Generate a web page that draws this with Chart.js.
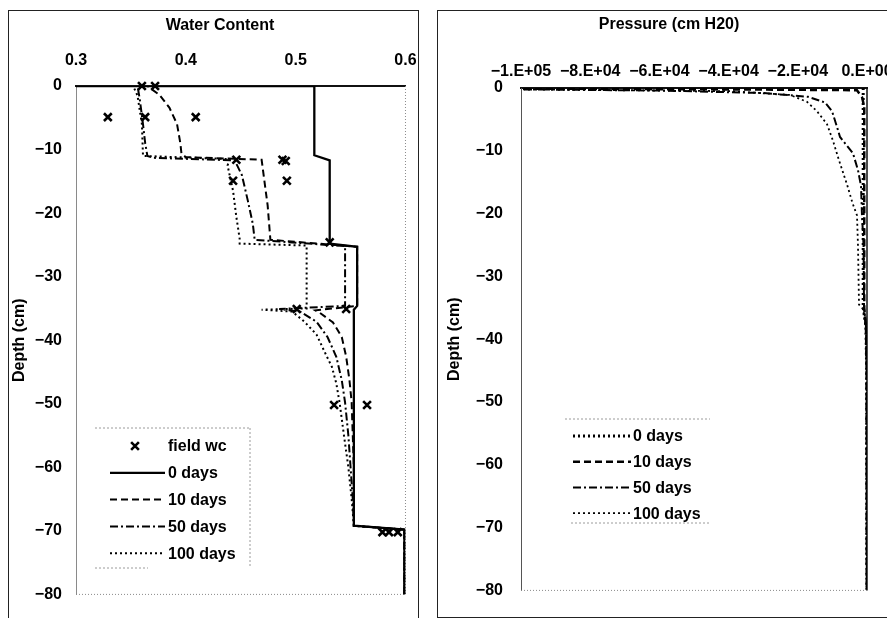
<!DOCTYPE html>
<html>
<head>
<meta charset="utf-8">
<script src="https://cdn.jsdelivr.net/npm/chart.js@4.4.1/dist/chart.umd.min.js"></script>
<style>
  html, body { margin: 0; padding: 0; background: #fff; width: 887px; height: 618px; overflow: hidden; }
  .frame { position: absolute; box-sizing: border-box; border: 1.5px solid #222; }
  #frameL { left: 8px; top: 10px; width: 411px; height: 640px; }
  #frameR { left: 437px; top: 10px; width: 480px; height: 608px; }
  .holder { position: absolute; }
  #holdL { left: 8px; top: 10px; width: 424px; height: 608px; }
  #holdR { left: 437px; top: 10px; width: 476px; height: 608px; }
</style>
</head>
<body>
<div class="frame" id="frameL"></div>
<div class="frame" id="frameR"></div>
<div class="holder" id="holdL"><canvas id="wcChart"></canvas></div>
<div class="holder" id="holdR"><canvas id="pChart"></canvas></div>
<script>
// ---------- tick labels ----------
const wcTickLabels = ['0.3', '0.4', '0.5', '0.6'];
const depthTickLabels = ['0', '\u221210', '\u221220', '\u221230', '\u221240', '\u221250', '\u221260', '\u221270', '\u221280'];
const pressureTickLabels = ['\u22121.E+05', '\u22128.E+04', '\u22126.E+04', '\u22124.E+04', '\u22122.E+04', '0.E+00'];

// ---------- water content profiles ----------
const fieldDepth = [0, 0, -4.9, -4.9, -4.9, -11.6, -11.6, -11.8, -14.9, -14.9, -24.6, -35.1, -35.1, -50.2, -50.2, -70.2, -70.2, -70.2];
const fieldWc    = [0.360, 0.372, 0.329, 0.363, 0.409, 0.446, 0.488, 0.491, 0.443, 0.492, 0.531, 0.501, 0.546, 0.535, 0.565, 0.579, 0.585, 0.593];

const wc0Depth = [0, 0, -10.9, -11.7, -24.8, -25.3, -34.6, -35.2, -69.2, -69.8, -80];
const wc0Value = [0.300, 0.517, 0.517, 0.531, 0.531, 0.556, 0.556, 0.553, 0.553, 0.599, 0.599];

const wc10Depth = [0, 0, -1.4, -3.4, -6, -9, -10.6, -11.2, -11.6, -18.8, -24.2, -25.3, -34.6, -35.3, -35.7, -37.2, -39.5, -42.6, -46.3, -49.8, -55, -60, -69.2, -69.8, -80];
const wc10Value = [0.300, 0.365, 0.376, 0.385, 0.392, 0.395, 0.396, 0.400, 0.469, 0.4745, 0.477, 0.556, 0.556, 0.518, 0.522, 0.534, 0.542, 0.546, 0.549, 0.551, 0.552, 0.553, 0.553, 0.599, 0.599];

const wc50Depth = [0, 0, -2, -6, -9, -11, -11.3, -11.7, -14, -18, -21.7, -24.2, -25.2, -34.6, -35.1, -35.5, -37.1, -39.5, -42.6, -46.3, -49.8, -55, -60, -65, -69.2, -69.8, -80];
const wc50Value = [0.300, 0.356, 0.358, 0.361, 0.363, 0.365, 0.370, 0.4445, 0.451, 0.4564, 0.461, 0.4627, 0.545, 0.545, 0.485, 0.504, 0.519, 0.529, 0.537, 0.542, 0.545, 0.548, 0.550, 0.552, 0.553, 0.599, 0.599];

const wc100Depth = [0, 0, -1.5, -6, -11, -11.5, -12.5, -16.5, -20.6, -24, -24.8, -25.1, -35, -35.2, -35.5, -37.1, -39.1, -41.7, -44.2, -46.8, -49.8, -55, -60, -65, -69.2, -69.8, -80];
const wc100Value = [0.300, 0.352, 0.356, 0.360, 0.361, 0.440, 0.438, 0.443, 0.446, 0.449, 0.449, 0.510, 0.510, 0.469, 0.497, 0.508, 0.519, 0.526, 0.533, 0.537, 0.540, 0.544, 0.548, 0.551, 0.553, 0.599, 0.599];

// ---------- pressure head profiles (cm H2O) ----------
const p0Depth = [0, -35, -38, -45, -80];
const p0Value = [-1100, -1100, -300, -100, -50];

const p10Depth = [0, -0.25, -0.35, -1.5, -3, -35, -38, -45, -80];
const p10Value = [-150000, -30000, -2900, -1400, -800, -800, -300, -100, -50];

const p50Depth = [0, -0.4, -0.8, -1.4, -2.3, -3.7, -6.2, -7.8, -9.2, -10.4, -13.1, -15.6, -20.2, -25, -35, -38, -45, -80];
const p50Value = [-150000, -60000, -30000, -17050, -12140, -10100, -8670, -7800, -5780, -4050, -2600, -1730, -1450, -1000, -870, -300, -100, -50];

const p100Depth = [0, -0.5, -1.1, -2.2, -3.7, -5.75, -8.4, -11.5, -13.5, -15.5, -18.3, -20.3, -25.2, -34.5, -35.2, -38, -45, -80];
const p100Value = [-150000, -40000, -22250, -17340, -14450, -11560, -9830, -8100, -6900, -5700, -4200, -2890, -2600, -2310, -1100, -300, -100, -50];

const toPoints = (values, depths) => values.map((v, i) => ({ x: v, y: depths[i] }));

const FONT = '"Liberation Sans", Arial, sans-serif';
Chart.defaults.font.family = FONT;
Chart.defaults.font.weight = 'bold';
Chart.defaults.font.size = 16;
Chart.defaults.color = '#000';
Chart.defaults.animation = false;

// Legend drawn inside the plot area, using each dataset's own stroke style.
const insideLegend = {
  id: 'insideLegend',
  afterDatasetsDraw(chart, args, o) {
    const { ctx, chartArea } = chart;
    const x0 = chartArea.left, y0 = chartArea.top;
    ctx.save();
    ctx.strokeStyle = '#9a9a9a';
    ctx.lineWidth = 1;
    ctx.setLineDash([2, 2]);
    ctx.beginPath();
    for (const e of o.boxEdges) {
      ctx.moveTo(x0 + e[0], y0 + e[1]);
      ctx.lineTo(x0 + e[2], y0 + e[3]);
    }
    ctx.stroke();
    ctx.font = `bold ${o.fontSize}px ${FONT}`;
    ctx.textBaseline = 'middle';
    ctx.textAlign = 'left';
    ctx.fillStyle = '#000';
    chart.data.datasets.forEach((ds, i) => {
      const y = y0 + o.top + i * o.rowGap;
      ctx.strokeStyle = '#000';
      if (ds.showLine) {
        ctx.lineWidth = ds.borderWidth;
        ctx.setLineDash(ds.borderDash || []);
        ctx.beginPath();
        ctx.moveTo(x0 + o.lineStart, y);
        ctx.lineTo(x0 + o.lineEnd, y);
        ctx.stroke();
      } else {
        ctx.setLineDash([]);
        ctx.lineWidth = ds.pointBorderWidth;
        Chart.helpers.drawPoint(ctx, { pointStyle: ds.pointStyle, radius: ds.pointRadius, borderWidth: ds.pointBorderWidth, rotation: 0 }, x0 + o.markerX, y);
      }
      ctx.fillText(ds.label, x0 + o.textX, y + 1);
    });
    ctx.restore();
  }
};

// Right and bottom edges of the plot area.
const plotEdges = {
  id: 'plotEdges',
  beforeDatasetsDraw(chart, args, o) {
    const { ctx, chartArea: { left, right, top, bottom } } = chart;
    ctx.save();
    ctx.lineWidth = o.rightWidth;
    ctx.strokeStyle = o.rightColor;
    ctx.setLineDash(o.rightDash);
    ctx.beginPath(); ctx.moveTo(right, top); ctx.lineTo(right, bottom); ctx.stroke();
    ctx.lineWidth = 1;
    ctx.strokeStyle = o.bottomColor;
    ctx.setLineDash(o.bottomDash);
    ctx.beginPath(); ctx.moveTo(left, bottom); ctx.lineTo(right, bottom); ctx.stroke();
    ctx.restore();
  }
};

const lineSet = (label, values, depths, dash, width) => ({
  label, data: toPoints(values, depths), showLine: true, pointRadius: 0,
  borderColor: '#000', borderWidth: width, borderDash: dash, tension: 0, fill: false
});

// ---------- Water content chart ----------
new Chart(document.getElementById('wcChart'), {
  type: 'scatter',
  data: {
    datasets: [
      { label: 'field wc', data: toPoints(fieldWc, fieldDepth), pointStyle: 'crossRot', pointRadius: 5.5,
        pointBorderWidth: 2.6, borderColor: '#000', backgroundColor: '#000', clip: false },
      lineSet('0 days', wc0Value, wc0Depth, [], 2.3),
      lineSet('10 days', wc10Value, wc10Depth, [7, 4], 2),
      lineSet('50 days', wc50Value, wc50Depth, [8, 3, 2, 3], 2),
      lineSet('100 days', wc100Value, wc100Depth, [2, 3], 2)
    ]
  },
  options: {
    responsive: true, maintainAspectRatio: false,
    layout: { padding: { left: 26, top: 0, right: 26, bottom: 12 } },
    plugins: {
      legend: { display: false }, tooltip: { enabled: false },
      title: { display: true, text: 'Water Content', padding: { top: 6, bottom: 0 }, font: { size: 16, weight: 'bold' }, color: '#000' },
      insideLegend: { top: 360, rowGap: 26.8, lineStart: 34, lineEnd: 89, markerX: 59, textX: 92, fontSize: 16,
        boxEdges: [[19, 342, 174, 342], [174, 342, 174, 482], [19, 482, 72, 482]] },
      plotEdges: { rightWidth: 1, rightColor: '#8a8a8a', rightDash: [1, 2], bottomColor: '#8a8a8a', bottomDash: [1, 2] }
    },
    scales: {
      x: {
        type: 'linear', position: 'top', min: 0.3, max: 0.6,
        afterFit: s => { s.height = 50.8; },
        ticks: { stepSize: 0.1, padding: 15.4, maxRotation: 0,
          callback: v => wcTickLabels[Math.round((v - 0.3) / 0.1)] },
        grid: { display: false, drawTicks: false },
        border: { display: true, color: '#111', width: 2 }
      },
      y: {
        type: 'linear', min: -80, max: 0,
        afterFit: s => { s.width = 42; },
        ticks: { stepSize: 10, padding: 14, callback: v => depthTickLabels[Math.round(-v / 10)] },
        grid: { display: false, drawTicks: false },
        border: { display: true, color: '#8a8a8a', width: 1 },
        title: { display: true, text: 'Depth (cm)', padding: { top: -23.6 }, font: { size: 16, weight: 'bold' } }
      }
    }
  },
  plugins: [insideLegend, plotEdges]
});

// ---------- Pressure head chart ----------
new Chart(document.getElementById('pChart'), {
  type: 'scatter',
  data: {
    datasets: [
      lineSet('0 days', p0Value, p0Depth, [2, 3], 3),
      lineSet('10 days', p10Value, p10Depth, [7, 4], 2.5),
      lineSet('50 days', p50Value, p50Depth, [8, 3, 2, 3], 2),
      lineSet('100 days', p100Value, p100Depth, [2, 3], 1.8)
    ]
  },
  options: {
    responsive: true, maintainAspectRatio: false,
    layout: { padding: { left: 34, top: 0, right: 46, bottom: 16 } },
    plugins: {
      legend: { display: false }, tooltip: { enabled: false },
      title: { display: true, text: 'Pressure (cm H20)', padding: { top: 5.4, bottom: 0 }, font: { size: 16, weight: 'bold' }, color: '#000' },
      insideLegend: { top: 348, rowGap: 25.7, lineStart: 52, lineEnd: 110, markerX: 60, textX: 112, fontSize: 16,
        boxEdges: [[44, 331, 189, 331], [50, 435, 189, 435]] },
      plotEdges: { rightWidth: 1.5, rightColor: '#111', rightDash: [], bottomColor: '#8a8a8a', bottomDash: [1, 2] }
    },
    scales: {
      x: {
        type: 'linear', position: 'top', min: -100000, max: 0,
        afterFit: s => { s.height = 53.4; },
        ticks: { stepSize: 20000, padding: 6.4, maxRotation: 0, autoSkip: false,
          callback: v => pressureTickLabels[Math.round((v + 100000) / 20000)] },
        grid: { display: false, drawTicks: false },
        border: { display: true, color: '#111', width: 2 }
      },
      y: {
        type: 'linear', min: -80, max: 0,
        afterFit: s => { s.width = 50; },
        ticks: { stepSize: 10, padding: 18, callback: v => depthTickLabels[Math.round(-v / 10)] },
        grid: { display: false, drawTicks: false },
        border: { display: true, color: '#555', width: 1 },
        title: { display: true, text: 'Depth (cm)', padding: { top: -25.6 }, font: { size: 16, weight: 'bold' } }
      }
    }
  },
  plugins: [insideLegend, plotEdges]
});
</script>
</body>
</html>
